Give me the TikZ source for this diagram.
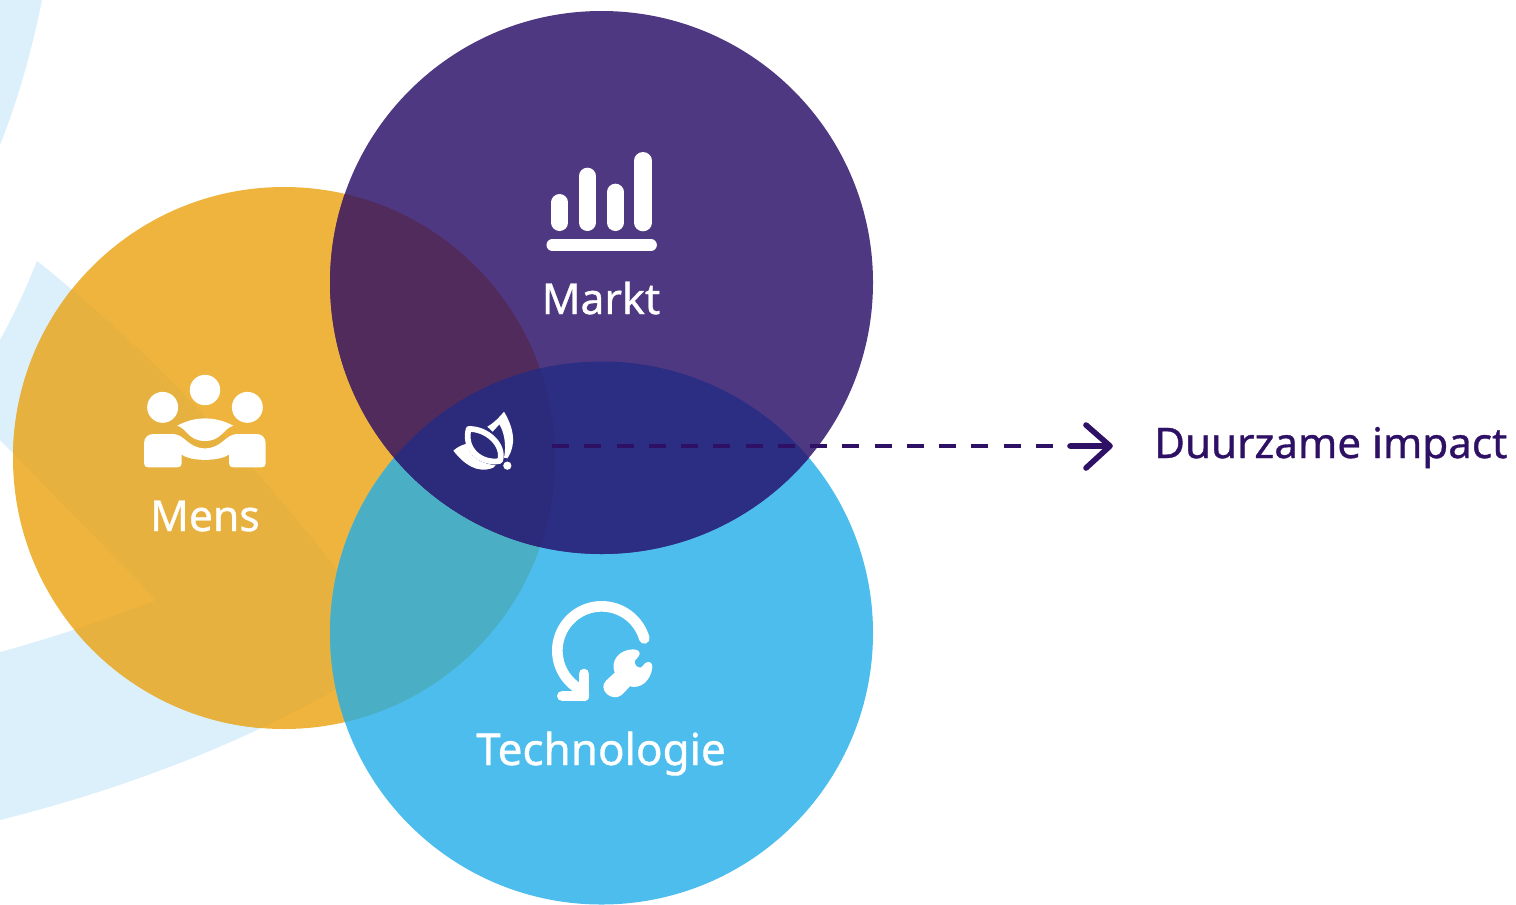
\documentclass[tikz,border=0pt]{standalone}
\usepackage{fontspec}
\setmainfont{Noto Sans}[FakeBold=0.8]
\definecolor{swoosh}{HTML}{DCF0FB}
\definecolor{ymain}{HTML}{EEB43D}
\definecolor{yswoosh}{HTML}{E6B13F}
\definecolor{pmain}{HTML}{4F3882}
\definecolor{bmain}{HTML}{4CBDEC}
\definecolor{yp}{HTML}{512B5C}
\definecolor{yb}{HTML}{4AAFC4}
\definecolor{pb}{HTML}{2B2E82}
\definecolor{ypb}{HTML}{2C2A7B}
\definecolor{ink}{HTML}{2E1065}
\tikzset{
  iconline/.style={draw=white,line cap=round,line join=round},
  lab/.style={text=white,font=\fontsize{32}{32}\selectfont,inner sep=0pt,anchor=base},
  flow/.style={draw=ink,line width=3pt,dash pattern=on 12.75pt off 11.44pt},
  tipline/.style={draw=ink,line width=4.2pt,line cap=round,line join=round},
}
\newcommand{\cY}{(284,458) circle [radius=271]}
\newcommand{\cP}{(601.5,282.5) circle [radius=271.5]}
\newcommand{\cB}{(601.5,633) circle [radius=271.5]}
\newcommand{\swooshpath}{(0,340) .. controls (14,315) and (26,288) .. (37,261) .. controls (150,350) and (260,470) .. (345,580)
  -- (400,650) .. controls (280,730) and (140,785) .. (0,820) -- (0,652)
  .. controls (55,637) and (105,620) .. (157,600) -- (0,440) -- cycle}
\begin{document}
\begin{tikzpicture}[x=0.75pt,y=-0.75pt]
\useasboundingbox (0,0) rectangle (1516,904);
% background swooshes
\fill[swoosh] (0,0) -- (42,0) .. controls (32,50) and (18,100) .. (0,145) -- cycle;
\fill[swoosh] \swooshpath;
% circles
\fill[ymain] \cY;
\begin{scope}\clip \cY; \fill[yswoosh] \swooshpath; \end{scope}
\fill[bmain] \cB;
\fill[pmain] \cP;
\begin{scope}\clip \cY; \fill[yb] \cB; \fill[yp] \cP; \end{scope}
\begin{scope}\clip \cP; \fill[pb] \cB; \end{scope}
\begin{scope}\clip \cP; \clip \cB; \fill[ypb] \cY; \end{scope}
% Mens icon
\begin{scope}[shift={(120,360)},x=0.25pt,y=-0.25pt]
\fill[white] (255,90) circle [radius=11.4pt];
\fill[white] (128,142) circle [radius=11.6pt];
\fill[white] (382,142) circle [radius=11.6pt];
\fill[white] (172,197) .. controls (225,168) and (285,168) .. (340,197)
  .. controls (310,205) and (305,243) .. (255,243)
  .. controls (205,243) and (200,205) .. (172,197) -- cycle;
\fill[white] (72,250) .. controls (72,232) and (85,222) .. (100,222) -- (160,222)
  .. controls (195,224) and (205,265) .. (255,265)
  .. controls (305,265) and (315,224) .. (350,222) -- (410,222)
  .. controls (425,222) and (437,232) .. (437,250) -- (437,310)
  .. controls (437,318) and (432,322) .. (425,322) -- (340,322)
  .. controls (332,322) and (327,318) .. (327,310) -- (327,283)
  .. controls (300,305) and (210,305) .. (185,283) -- (185,310)
  .. controls (185,318) and (180,322) .. (172,322) -- (85,322)
  .. controls (77,322) and (72,318) .. (72,310) -- cycle;
\end{scope}
% Markt icon
\begin{scope}[shift={(520,140)},x=0.25pt,y=-0.25pt]
\draw[iconline,line width=12.5pt] (119,187) -- (119,248);
\draw[iconline,line width=12.5pt] (202,108) -- (202,248);
\draw[iconline,line width=12.5pt] (286,156) -- (286,248);
\draw[iconline,line width=13pt] (369,62) -- (369,248);
\draw[iconline,line width=8.8pt] (97,315) -- (393,315);
\end{scope}
% Technologie icon
\begin{scope}[shift={(530,590)},x=0.25pt,y=-0.25pt]
\draw[iconline,line width=8pt] plot[smooth,domain=-16:-245,samples=50] ({215+133*cos(\x)},{182+133*sin(\x)}) -- (162,318);
\draw[iconline,line width=8pt] (97,318) -- (162,318) -- (162,252);
\fill[white] (228,272) -- (254,248) .. controls (240,212) and (268,178) .. (310,178)
  .. controls (328,178) and (334,190) .. (325,200) -- (314,213)
  .. controls (314,226) and (322,234) .. (334,232) -- (346,219)
  .. controls (358,210) and (369,220) .. (367,233)
  .. controls (362,272) and (332,298) .. (300,289) -- (275,315)
  .. controls (245,338) and (202,298) .. (228,272) -- cycle;
\end{scope}
% Leaf icon
\begin{scope}[shift={(430,395)},x=0.25pt,y=-0.25pt]
\draw[iconline,line width=4.3pt] (116,102) .. controls (170,100) and (225,150) .. (210,198)
  .. controls (150,208) and (100,160) .. (116,102) -- cycle;
\fill[white] (70,167) .. controls (82,156) and (95,150) .. (110,146)
  .. controls (115,180) and (150,208) .. (197,210) -- (190,218)
  .. controls (140,238) and (100,205) .. (70,167) -- cycle;
\fill[white] (172,95) .. controls (190,85) and (205,70) .. (222,50)
  .. controls (252,100) and (260,150) .. (232,190) -- (222,188)
  .. controls (230,150) and (222,110) .. (208,88)
  .. controls (202,95) and (195,102) .. (188,110) -- cycle;
\fill[white] (232,212) circle [radius=3.1pt];
\end{scope}
% labels
\node[lab] (markt) at (601,314) {Markt};
\node[lab] (mens) at (205,531) {Mens};
\node[lab,font=\fontsize{33}{33}\selectfont] (tech) at (601,765) {Technologie};
\node[inner sep=0pt,anchor=base west,text=ink,font=\fontsize{31.6}{32}\selectfont] (impact) at (1154,458) {Duurzame impact};
% connector
\coordinate (start) at (552,446);
\coordinate (tip) at (1110,446);
\draw[flow] (start) -- (tip);
\draw[tipline] (1070,446) -- (tip) (1086,425) -- (tip) -- (1086,468);
\end{tikzpicture}
\end{document}
